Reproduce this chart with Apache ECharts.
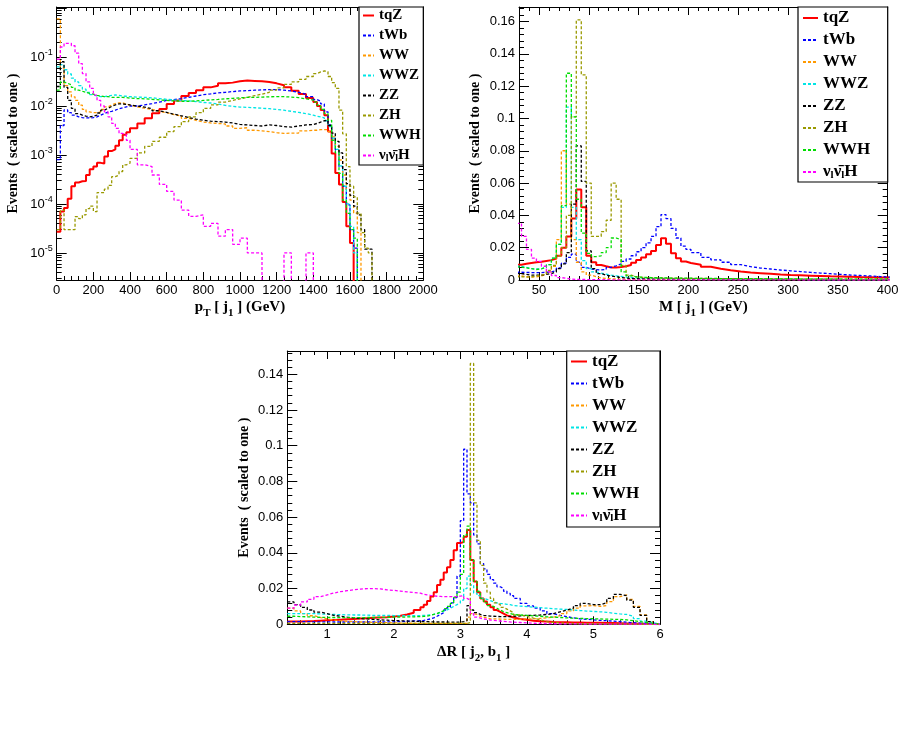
<!DOCTYPE html>
<html>
<head>
<meta charset="utf-8">
<title>jet distributions</title>
<script src="https://cdn.jsdelivr.net/npm/echarts@6.0.0/dist/echarts.min.js"></script>
<style>
  html, body { margin: 0; padding: 0; background: #fff; }
  #main { width: 905px; height: 730px; }
</style>
</head>
<body>
<div id="main"></div>
<script>
var seriesNames = ['tqZ', 'tWb', 'WW', 'WWZ', 'ZZ', 'ZH', 'WWH', 'vvH'];

// pT[j1], bin edges (GeV) and normalised contents
var ptEdges = [0,20,40,60,80,100,120,140,160,180,200,220,240,260,280,300,320,340,360,380,400,
  440,480,520,560,600,640,680,720,760,800,840,880,920,960,1000,1040,1080,1120,1160,1200,1240,1280,1320,1360,1400,
  1420,1440,1460,1480,1500,1520,1540,1560,1580,1600,1620,1640,1660,1680,1700,1720,1740];
var ptTqZ = [2.7e-5,7e-5,8.3e-5,1.27e-4,2.3e-4,2.75e-4,2.9e-4,2.95e-4,3.9e-4,5.1e-4,5.8e-4,6.9e-4,6.7e-4,9.3e-4,1.2e-3,1.3e-3,1.55e-3,2.0e-3,2.6e-3,2.9e-3,
  3.5e-3,4.4e-3,5.6e-3,7.1e-3,8.7e-3,1.1e-2,1.3e-2,1.6e-2,1.85e-2,2.1e-2,2.4e-2,2.6e-2,2.9e-2,3.0e-2,3.2e-2,3.3e-2,3.25e-2,3.2e-2,3.1e-2,2.9e-2,2.65e-2,2.4e-2,2.05e-2,1.75e-2,1.45e-2,
  1.2e-2,1.0e-2,8.3e-3,6.5e-3,3.0e-3,1.07e-3,4.3e-4,2.5e-4,1.1e-4,3.5e-5,1.6e-5,0,0,0,0,0,0];
var ptTWb = [8e-4,4e-3,8.3e-3,7.3e-3,6.5e-3,6e-3,5.8e-3,5.7e-3,5.7e-3,5.8e-3,6e-3,6.5e-3,7e-3,7.5e-3,7.8e-3,8.2e-3,8.8e-3,9.2e-3,9.6e-3,1.0e-2,
  1.0e-2,1.05e-2,1.12e-2,1.2e-2,1.3e-2,1.35e-2,1.42e-2,1.5e-2,1.6e-2,1.7e-2,1.77e-2,1.85e-2,1.9e-2,1.97e-2,2.03e-2,2.06e-2,2.1e-2,2.13e-2,2.16e-2,2.16e-2,2.1e-2,2.03e-2,1.9e-2,1.75e-2,1.55e-2,
  1.35e-2,1.25e-2,1.1e-2,7.6e-3,4.1e-3,2.2e-3,1.26e-3,5.8e-4,2.3e-4,9.6e-5,3e-5,1.25e-5,0,0,0,0,0];
var ptWW = [0.6,0.06,0.026,0.0194,0.0154,0.013,0.0104,0.0085,0.0076,0.0073,0.0073,0.0076,0.0085,0.0096,0.0105,0.0112,0.0116,0.0116,0.011,0.0104,
  9.6e-3,9.0e-3,8.5e-3,7.8e-3,7.3e-3,6.7e-3,6.2e-3,5.6e-3,5.1e-3,4.7e-3,4.5e-3,4.4e-3,4.3e-3,3.9e-3,3.5e-3,3.6e-3,3.2e-3,3.1e-3,3.0e-3,2.85e-3,2.75e-3,2.8e-3,2.8e-3,3.1e-3,3.2e-3,
  3.2e-3,3.3e-3,3.3e-3,3.3e-3,3.0e-3,2.35e-3,1.5e-3,7.9e-4,3.9e-4,1.95e-4,1.2e-4,6.5e-5,2.6e-5,0,0,0,0];
var ptWWZ = [0.063,0.07,0.055,0.045,0.037,0.031,0.026,0.022,0.019,0.017,0.016,0.0155,0.0155,0.016,0.0165,0.0168,0.0165,0.016,0.0158,0.0155,
  0.0152,0.015,0.0147,0.0142,0.0137,0.0133,0.013,0.0127,0.0123,0.0118,0.0115,0.011,0.0103,0.0098,0.0095,0.0094,0.0092,0.009,0.0088,0.0085,0.0082,0.0078,0.0074,0.007,0.0065,
  6.2e-3,6.0e-3,5.7e-3,5.0e-3,3.8e-3,2.2e-3,1.3e-3,6e-4,2.3e-4,1.0e-4,3.5e-5,1.0e-5,0,0,0,0,0];
var ptZZ = [0.025,0.08,0.024,0.013,0.0089,0.007,0.0065,0.0062,0.006,0.0062,0.0065,0.0072,0.0082,0.009,0.0098,0.0105,0.011,0.011,0.0108,0.0105,
  0.01,0.0095,0.0088,0.008,0.0074,0.0068,0.0063,0.0058,0.0054,0.0051,0.0049,0.0048,0.0047,0.0045,0.0042,0.0041,0.004,0.0039,0.0041,0.004,0.0038,0.0037,0.0039,0.0041,0.0042,
  4.4e-3,4.7e-3,5.0e-3,5.1e-3,4.0e-3,2.8e-3,1.9e-3,1.1e-3,5e-4,2.6e-4,1.5e-4,9e-5,6e-5,3e-5,1.2e-5,1.2e-5,0];
var ptZH = [3e-5,7.5e-5,3e-5,3e-5,3e-5,5.5e-5,5e-5,6e-5,8e-5,9e-5,7e-5,1.7e-4,1.7e-4,2e-4,2.4e-4,3.6e-4,3.9e-4,4.6e-4,6.3e-4,6.8e-4,
  8.5e-4,1.1e-3,1.5e-3,1.9e-3,2.3e-3,3e-3,3.8e-3,4.8e-3,6e-3,7.3e-3,8.9e-3,1.05e-2,1.2e-2,1.3e-2,1.4e-2,1.5e-2,1.62e-2,1.75e-2,1.9e-2,2.1e-2,2.35e-2,2.75e-2,3.1e-2,3.5e-2,4.0e-2,
  4.6e-2,4.95e-2,5.2e-2,5.0e-2,4.0e-2,3.0e-2,2.3e-2,8.2e-3,2.7e-3,5.8e-4,2.3e-4,1.4e-4,6.5e-5,2.6e-5,1.25e-5,1e-5,0];
var ptWWH = [0.021,0.031,0.029,0.027,0.024,0.021,0.02,0.019,0.018,0.0175,0.0165,0.016,0.0155,0.0155,0.015,0.015,0.015,0.015,0.0148,0.0145,
  0.0142,0.014,0.0137,0.0133,0.013,0.0127,0.0125,0.0125,0.0127,0.013,0.0133,0.0136,0.014,0.0143,0.0147,0.015,0.015,0.0152,0.0154,0.0155,0.0155,0.0152,0.0148,0.014,0.0132,
  1.2e-2,1.04e-2,8.5e-3,7e-3,5.1e-3,2e-3,1.1e-3,4.2e-4,1.2e-4,6.4e-5,3e-5,2e-5,0,0,0,0,0];
var ptVVH = [0.09,0.16,0.19,0.19,0.17,0.12,0.073,0.046,0.031,0.023,0.0166,0.013,0.01,0.0076,0.006,0.0044,0.0035,0.00275,0.0026,0.002,
  1.3e-3,6.3e-4,5.8e-4,3.9e-4,2.5e-4,1.8e-4,1.2e-4,7.5e-5,5.6e-5,6e-5,3.5e-5,4e-5,2.2e-5,3e-5,1.5e-5,2e-5,1e-5,1e-5,0,0,0,1e-5,0,0,1e-5,
  0,0,0,0,0,0,0,0,0,0,0,0,0,0,0,0,0];

// M[j1], bin edges (GeV)
var mEdges = [27.5,32.5,37.5,42.5,47.5,52.5,57.5,62.5,67.5,72.5,77.5,82.5,87.5,92.5,97.5,102.5,107.5,112.5,117.5,122.5,
  127.5,132.5,137.5,142.5,147.5,152.5,157.5,162.5,167.5,172.5,177.5,182.5,187.5,192.5,197.5,202.5,
  212.5,222.5,232.5,242.5,252.5,262.5,272.5,282.5,292.5,302.5,312.5,322.5,332.5,342.5,352.5,362.5,372.5,382.5,392.5,402.5];
var mTqZ = [0.0095,0.0100,0.0105,0.011,0.0113,0.0118,0.0123,0.0133,0.015,0.02,0.027,0.038,0.056,0.045,0.015,0.011,0.0093,0.0085,0.0078,0.0078,
  0.008,0.0085,0.0093,0.0107,0.0124,0.014,0.016,0.018,0.0217,0.0258,0.0225,0.0165,0.0134,0.0114,0.0105,
  0.0095,0.0082,0.007,0.006,0.0052,0.0046,0.0042,0.0038,0.0034,0.0031,0.0029,0.0027,0.0025,0.0023,0.0022,0.002,0.0018,0.0017,0.0016,0.0015];
var mTWb = [0.0048,0.0047,0.0046,0.0046,0.0046,0.0048,0.005,0.0058,0.0075,0.0105,0.014,0.016,0.011,0.0078,0.0068,0.0064,0.0062,0.0065,0.0078,0.0088,
  0.01,0.0115,0.013,0.015,0.0175,0.02,0.023,0.027,0.033,0.0405,0.038,0.032,0.026,0.021,0.019,
  0.017,0.014,0.0125,0.011,0.0095,0.0083,0.0074,0.0068,0.0062,0.0057,0.0052,0.0047,0.0043,0.0039,0.0035,0.0031,0.0028,0.0025,0.0021,0.0018];
var mWW = [0.0025,0.002,0.0018,0.002,0.0025,0.0035,0.005,0.0085,0.025,0.08,0.047,0.025,0.011,0.005,0.003,0.002,0.0012,0.001,0.0008,0.0006,
  0.0005,0.0004,0.0003,0.0003,0.0003,0.0003,0.0003,0.0003,0.0003,0.0003,0.0003,0.0003,0.0003,0.0003,0.0003,
  0.0003,0.0003,0.0003,0.0003,0.0003,0.0002,0.0002,0.0002,0.0002,0.0002,0.0002,0.0002,0.0002,0.0002,0.0002,0.0001,0.0001,0.0001,0.0001,0.0001];
var mWWZ = [0.0085,0.0078,0.007,0.0068,0.007,0.0078,0.0095,0.0135,0.022,0.045,0.107,0.045,0.025,0.012,0.007,0.005,0.0042,0.0036,0.003,0.0026,
  0.0022,0.0018,0.0015,0.0013,0.0012,0.0011,0.0011,0.001,0.001,0.001,0.0009,0.0009,0.0009,0.0008,0.0008,
  0.0008,0.0007,0.0007,0.0006,0.0006,0.0005,0.0005,0.0005,0.0004,0.0004,0.0004,0.0003,0.0003,0.0003,0.0003,0.0002,0.0002,0.0002,0.0002,0.0002];
var mZZ = [0.004,0.0035,0.003,0.003,0.003,0.0035,0.004,0.005,0.007,0.01,0.017,0.047,0.083,0.061,0.018,0.007,0.004,0.003,0.0025,0.002,
  0.0015,0.0012,0.001,0.0008,0.0007,0.0007,0.0006,0.0006,0.0006,0.0005,0.0005,0.0005,0.0005,0.0005,0.0005,
  0.0005,0.0005,0.0005,0.0005,0.0004,0.0004,0.0004,0.0004,0.0004,0.0004,0.0003,0.0003,0.0003,0.0003,0.0003,0.0002,0.0002,0.0002,0.0002,0.0002];
var mZH = [0.002,0.0018,0.002,0.0025,0.003,0.004,0.006,0.009,0.015,0.02,0.04,0.101,0.161,0.127,0.06,0.027,0.027,0.03,0.037,0.06,
  0.05,0.009,0.003,0.002,0.0016,0.0015,0.0014,0.0013,0.0013,0.0012,0.0012,0.0011,0.0011,0.001,0.001,
  0.001,0.0009,0.0009,0.0008,0.0008,0.0008,0.0007,0.0007,0.0007,0.0006,0.0006,0.0006,0.0006,0.0005,0.0005,0.0005,0.0005,0.0005,0.0005,0.0005];
var mWWH = [0.008,0.0075,0.007,0.0065,0.0068,0.008,0.0095,0.0135,0.022,0.046,0.128,0.101,0.05,0.029,0.0165,0.0145,0.015,0.017,0.02,0.026,
  0.025,0.005,0.0025,0.002,0.0018,0.0016,0.0015,0.0014,0.0013,0.0013,0.0012,0.0012,0.0011,0.0011,0.0011,
  0.001,0.001,0.0009,0.0009,0.0008,0.0008,0.0008,0.0007,0.0007,0.0007,0.0006,0.0006,0.0006,0.0006,0.0005,0.0005,0.0005,0.0005,0.0005,0.0005];
var mVVH = [0.035,0.027,0.019,0.0135,0.0115,0.0085,0.005,0.0028,0.0015,0.001,0.0006,0.0004,0.0003,0.0003,0.0002,0.0002,0.0002,0.0002,0.0001,0.0001,
  0.0001,0.0001,0.0001,0.0001,0.0001,0.0001,0.0001,0.0001,0.0001,0.0001,0.0001,0.0001,0.0001,0.0001,0.0001,
  0.0001,0.0001,0.0001,0.0001,0.0001,0.0001,0.0001,0.0001,0.0001,0.0001,0,0,0,0,0,0,0,0,0,0];

// DeltaR[j2,b1], bin edges
var drEdges = [0.4,0.5,0.6,0.7,0.8,0.9,1.0,1.1,1.2,1.3,1.4,1.5,1.6,1.7,1.8,1.9,2.0,2.1,2.2,2.3,2.4,
  2.45,2.5,2.55,2.6,2.65,2.7,2.75,2.8,2.85,2.9,2.95,3.0,3.05,3.1,3.15,3.2,3.25,3.3,3.35,3.4,3.45,3.5,3.55,3.6,3.65,3.7,3.75,3.8,
  3.9,4.0,4.1,4.2,4.3,4.4,4.5,4.6,4.7,4.8,4.9,5.0,5.1,5.2,5.3,5.4,5.5,5.6,5.7,5.8,5.9,6.0];
var drTqZ = [0.0015,0.0016,0.0017,0.0018,0.002,0.0022,0.0024,0.0026,0.0028,0.003,0.0032,0.0034,0.0036,0.0038,0.004,0.0043,0.0048,0.0055,0.0065,0.008,
  0.0095,0.011,0.013,0.0155,0.018,0.022,0.025,0.029,0.032,0.036,0.0415,0.0455,0.046,0.049,0.0528,0.036,0.024,0.018,0.0145,0.0127,0.011,0.0095,0.008,0.007,0.006,0.005,0.0044,0.0038,
  0.003,0.0025,0.002,0.0017,0.0015,0.0013,0.0012,0.0011,0.001,0.001,0.0009,0.0009,0.0008,0.0007,0.0007,0.0006,0.0005,0.0004,0.0003,0.0002,0.0001,0];
var drTWb = [0.0015,0.0015,0.0015,0.0014,0.0014,0.0014,0.0013,0.0013,0.0013,0.0013,0.0013,0.0013,0.0013,0.0013,0.0013,0.0014,0.0015,0.0017,0.0019,0.002,
  0.0022,0.0026,0.003,0.0036,0.0045,0.0055,0.0065,0.008,0.0095,0.012,0.015,0.027,0.058,0.098,0.073,0.068,0.05,0.045,0.034,0.031,0.028,0.025,0.023,0.021,0.02,0.0185,0.0173,0.016,
  0.0145,0.0117,0.0103,0.009,0.0075,0.006,0.005,0.0043,0.0036,0.003,0.0028,0.0025,0.0022,0.002,0.0018,0.0015,0.0012,0.0009,0.0007,0.0005,0.0003,0.0001];
var drWW = [0.009,0.0075,0.006,0.0048,0.0038,0.003,0.0024,0.002,0.0017,0.0015,0.0013,0.0012,0.0011,0.001,0.0009,0.0008,0.0007,0.0006,0.0006,0.0005,
  0.0005,0.0005,0.0005,0.0005,0.0005,0.0005,0.0005,0.0005,0.0005,0.0005,0.0005,0.0005,0.0005,0.0005,0.004,0.006,0.0055,0.0045,0.004,0.0035,0.003,0.003,0.003,0.0029,0.0029,0.0028,0.0028,0.0028,
  0.0028,0.003,0.003,0.0033,0.0036,0.004,0.0048,0.006,0.0075,0.009,0.0103,0.0105,0.01,0.0105,0.0127,0.0155,0.0165,0.014,0.01,0.0052,0.0015,0];
var drWWZ = [0.006,0.006,0.006,0.006,0.0058,0.0056,0.0055,0.0054,0.0053,0.0052,0.0052,0.0051,0.005,0.005,0.005,0.0049,0.0048,0.0048,0.0048,0.0049,
  0.005,0.0051,0.0053,0.0056,0.006,0.0066,0.0073,0.008,0.009,0.01,0.011,0.012,0.0135,0.02,0.027,0.022,0.0175,0.016,0.0145,0.014,0.0132,0.0125,0.012,0.0117,0.0115,0.0112,0.011,0.0105,
  0.0102,0.0099,0.0096,0.0093,0.009,0.0087,0.0085,0.0083,0.008,0.0077,0.0074,0.0072,0.007,0.0067,0.0062,0.0058,0.0055,0.0045,0.0032,0.0018,0.0008,0.0002];
var drZZ = [0.0125,0.011,0.0095,0.008,0.0068,0.006,0.005,0.0045,0.004,0.0036,0.0032,0.003,0.0027,0.0025,0.0023,0.0021,0.002,0.0018,0.0017,0.0016,
  0.0015,0.0015,0.0014,0.0014,0.0013,0.0013,0.0013,0.0012,0.0012,0.0012,0.0012,0.0013,0.0015,0.002,0.0105,0.008,0.0065,0.0055,0.005,0.0048,0.0046,0.0045,0.0044,0.0043,0.0043,0.0043,0.0044,0.0045,
  0.0047,0.005,0.005,0.0052,0.0055,0.006,0.007,0.008,0.009,0.0105,0.0117,0.011,0.011,0.012,0.0145,0.0168,0.016,0.0135,0.0095,0.005,0.0015,0];
var drZH = [0.0005,0.0005,0.0005,0.0005,0.0005,0.0005,0.0005,0.0005,0.0005,0.0005,0.0005,0.0005,0.0005,0.0005,0.0005,0.0005,0.0005,0.0005,0.0005,0.0005,
  0.0005,0.0005,0.0005,0.0005,0.0005,0.0005,0.0005,0.0005,0.0005,0.0005,0.0005,0.0005,0.0005,0.0005,0.001,0.146,0.068,0.047,0.033,0.023,0.018,0.0145,0.012,0.011,0.0095,0.0085,0.0075,0.0065,
  0.0052,0.0045,0.0034,0.0025,0.0015,0.001,0.0007,0.0005,0.0004,0.0003,0.0003,0.0002,0.0002,0.0002,0.0001,0.0001,0.0001,0.0001,0.0001,0,0,0];
var drWWH = [0.0045,0.0043,0.0042,0.004,0.0039,0.0038,0.0038,0.0037,0.0037,0.0037,0.0037,0.0038,0.0038,0.0039,0.0039,0.004,0.004,0.0041,0.0042,0.0043,
  0.0044,0.0046,0.005,0.0055,0.006,0.0068,0.0076,0.0088,0.01,0.0117,0.015,0.018,0.028,0.05,0.055,0.036,0.024,0.0185,0.0145,0.012,0.0105,0.01,0.009,0.008,0.007,0.0065,0.006,0.0055,
  0.0052,0.005,0.0047,0.0045,0.0042,0.004,0.0038,0.0036,0.0034,0.0033,0.0032,0.0031,0.003,0.0029,0.0028,0.0027,0.0025,0.002,0.0015,0.001,0.0005,0.0001];
var drVVH = [0.009,0.0108,0.0125,0.014,0.0155,0.0165,0.0175,0.0183,0.0188,0.0193,0.0197,0.02,0.02,0.0198,0.0193,0.019,0.0186,0.0182,0.0178,0.0174,
  0.0168,0.0165,0.0162,0.016,0.0157,0.0156,0.0155,0.0155,0.0155,0.0155,0.0155,0.0158,0.016,0.0145,0.0135,0.006,0.004,0.0035,0.003,0.0027,0.0024,0.0022,0.002,0.0018,0.0016,0.0015,0.0013,0.0012,
  0.001,0.0008,0.0006,0.0005,0.0004,0.0003,0.0003,0.0002,0.0002,0.0002,0.0001,0.0001,0.0001,0.0001,0.0001,0.0001,0.0001,0.0001,0.0001,0.0001,0,0];

// line looks, same order as seriesNames
var lineLooks = [
  {color: '#ff0000', width: 2, type: 'solid'},
  {color: '#0000ff', width: 1.3, type: [3, 2]},
  {color: '#ff9900', width: 1.3, type: [3, 2]},
  {color: '#00e5e5', width: 1.3, type: [3, 2]},
  {color: '#000000', width: 1.3, type: [3, 2]},
  {color: '#999900', width: 1.3, type: [3, 2]},
  {color: '#00dd00', width: 1.3, type: [3, 2]},
  {color: '#ff00ff', width: 1.3, type: [3, 2]}
];

var SERIF = '"Liberation Serif", "Times New Roman", serif';
var SANS = '"Liberation Sans", Arial, Helvetica, sans-serif';

// histogram outline: value held from each low edge to the next edge
function histData(edges, vals, floorVal) {
  var pts = [];
  for (var i = 0; i < vals.length; i++) {
    var v = vals[i];
    if (floorVal && v <= 0) v = floorVal;
    pts.push([edges[i], v]);
  }
  var last = pts[pts.length - 1][1];
  pts.push([edges[vals.length], last]);
  return pts;
}

function legendLabel(name) {
  if (name === 'vvH') return '\u03bd{sub|l}\u03bd\u0304{sub|l}H';
  return name;
}

function powLabel(v) {
  var e = Math.log(v) / Math.LN10;
  var r = Math.round(e);
  if (Math.abs(e - r) > 1e-6 || r === 0) return '';
  return '10{sup|' + r + '}';
}

function plainNum(v) {
  return String(Math.round(v * 1000) / 1000);
}

function titleStyle(size) {
  return {
    fontFamily: SERIF, fontWeight: 'bold', fontSize: size, color: '#000', lineHeight: size + 8,
    rich: {sub: {fontFamily: SERIF, fontWeight: 'bold', fontSize: Math.round(size * 0.7), lineHeight: 10, verticalAlign: 'bottom', color: '#000'}}
  };
}

var numLabel = {show: true, color: '#000', fontFamily: SANS, fontSize: 13, margin: 4, formatter: plainNum};

function axisBase(extra) {
  return Object.assign({
    axisLine: {show: true, onZero: false, lineStyle: {color: '#000', width: 1}},
    axisTick: {show: true, inside: true, length: 8, lineStyle: {color: '#000'}},
    minorTick: {show: true, splitNumber: 5, length: 4, lineStyle: {color: '#000'}},
    splitLine: {show: false},
    minorSplitLine: {show: false},
    axisLabel: {show: false},
    nameMoveOverlap: false
  }, extra);
}

var yTick = {show: true, inside: true, length: 10, lineStyle: {color: '#000'}};
var yMinor = {show: true, splitNumber: 5, length: 5, lineStyle: {color: '#000'}};
var logMinor = {show: true, splitNumber: 9, length: 5, lineStyle: {color: '#000'}};

var xAxes = [
  // panel 1
  axisBase({type: 'value', gridIndex: 0, position: 'bottom', min: 0, max: 2000, interval: 200,
    axisLabel: numLabel, name: 'p{sub|T} [ j{sub|1} ] (GeV)', nameLocation: 'middle', nameGap: 16, nameTextStyle: titleStyle(15)}),
  axisBase({type: 'value', gridIndex: 0, position: 'top', min: 0, max: 2000, interval: 200}),
  // panel 2
  axisBase({type: 'value', gridIndex: 1, position: 'bottom', min: 30, max: 400, splitNumber: 7, minInterval: 50, maxInterval: 50,
    axisLabel: Object.assign({showMinLabel: false}, numLabel), name: 'M [ j{sub|1} ] (GeV)', nameLocation: 'middle', nameGap: 16, nameTextStyle: titleStyle(15)}),
  axisBase({type: 'value', gridIndex: 1, position: 'top', min: 30, max: 400, splitNumber: 7, minInterval: 50, maxInterval: 50}),
  // panel 3
  axisBase({type: 'value', gridIndex: 2, position: 'bottom', min: 0.4, max: 6, splitNumber: 6, minInterval: 1, maxInterval: 1,
    axisLabel: Object.assign({showMinLabel: false}, numLabel), name: '\u0394R [ j{sub|2}, b{sub|1} ]', nameLocation: 'middle', nameGap: 16, nameTextStyle: titleStyle(15)}),
  axisBase({type: 'value', gridIndex: 2, position: 'top', min: 0.4, max: 6, splitNumber: 6, minInterval: 1, maxInterval: 1})
];

var yName = 'Events  ( scaled to one )';
var yAxes = [
  axisBase({type: 'log', logBase: 10, gridIndex: 0, position: 'left', min: 2.8e-6, max: 1.05,
    axisTick: yTick, minorTick: logMinor,
    axisLabel: Object.assign({}, numLabel, {formatter: powLabel, showMinLabel: false, showMaxLabel: false, lineHeight: 18,
      rich: {sup: {fontFamily: SANS, fontSize: 9, lineHeight: 9, verticalAlign: 'top', color: '#000'}}}),
    name: yName, nameLocation: 'middle', nameGap: 32, nameTextStyle: titleStyle(14)}),
  axisBase({type: 'log', logBase: 10, gridIndex: 0, position: 'right', min: 2.8e-6, max: 1.05, axisTick: yTick, minorTick: logMinor}),
  axisBase({type: 'value', gridIndex: 1, position: 'left', min: 0, max: 0.169, interval: 0.02,
    axisTick: yTick, minorTick: yMinor, axisLabel: Object.assign({showMaxLabel: false}, numLabel),
    name: yName, nameLocation: 'middle', nameGap: 33, nameTextStyle: titleStyle(14)}),
  axisBase({type: 'value', gridIndex: 1, position: 'right', min: 0, max: 0.169, interval: 0.02, axisTick: yTick, minorTick: yMinor}),
  axisBase({type: 'value', gridIndex: 2, position: 'left', min: 0, max: 0.153, interval: 0.02,
    axisTick: yTick, minorTick: yMinor, axisLabel: Object.assign({showMaxLabel: false}, numLabel),
    name: yName, nameLocation: 'middle', nameGap: 32, nameTextStyle: titleStyle(14)}),
  axisBase({type: 'value', gridIndex: 2, position: 'right', min: 0, max: 0.153, interval: 0.02, axisTick: yTick, minorTick: yMinor})
];

var panels = [
  {edges: ptEdges, sets: [ptTqZ, ptTWb, ptWW, ptWWZ, ptZZ, ptZH, ptWWH, ptVVH], axis: 0, floor: 1e-9},
  {edges: mEdges, sets: [mTqZ, mTWb, mWW, mWWZ, mZZ, mZH, mWWH, mVVH], axis: 2, floor: 0},
  {edges: drEdges, sets: [drTqZ, drTWb, drWW, drWWZ, drZZ, drZH, drWWH, drVVH], axis: 4, floor: 0}
];

var series = [];
panels.forEach(function (p) {
  p.sets.forEach(function (vals, k) {
    var look = lineLooks[k];
    series.push({
      type: 'line', name: seriesNames[k],
      xAxisIndex: p.axis, yAxisIndex: p.axis,
      data: histData(p.edges, vals, p.floor),
      step: 'end', symbol: 'none', showSymbol: false, clip: true, silent: true,
      lineStyle: {color: look.color, width: look.width, type: look.type},
      itemStyle: {color: look.color},
      z: 2
    });
  });
});

function makeLegend(left, top, fontSize, iconW, lineH) {
  return {
    left: left, top: top, orient: 'vertical', padding: 0,
    itemWidth: iconW, itemHeight: 10, itemGap: 5,
    selectedMode: false, data: seriesNames, z: 10,
    formatter: legendLabel,
    itemStyle: {opacity: 0},
    textStyle: {
      fontFamily: SERIF, fontWeight: 'bold', fontSize: fontSize, color: '#000', lineHeight: lineH,
      rich: {sub: {fontFamily: SERIF, fontWeight: 'bold', fontSize: Math.round(fontSize * 0.65), lineHeight: 10, verticalAlign: 'bottom', color: '#000'}}
    }
  };
}

function legendBox(x, y, w, h) {
  return {type: 'rect', z: 8, silent: true, shape: {x: x, y: y, width: w, height: h},
    style: {fill: '#fff', stroke: '#000', lineWidth: 1.2}};
}

var chart = echarts.init(document.getElementById('main'), null, {renderer: 'canvas'});
chart.setOption({
  animation: false,
  backgroundColor: '#fff',
  grid: [
    {left: 56.7, top: 7, width: 366.6, height: 273, containLabel: false, outerBoundsMode: 'none'},
    {left: 519, top: 7, width: 368.7, height: 273, containLabel: false, outerBoundsMode: 'none'},
    {left: 287.3, top: 351, width: 372.7, height: 273.3, containLabel: false, outerBoundsMode: 'none'}
  ],
  xAxis: xAxes,
  yAxis: yAxes,
  legend: [
    makeLegend(362, 8, 15, 11, 15),
    makeLegend(802, 9.5, 17, 15, 17),
    makeLegend(570, 353, 17, 16, 17)
  ],
  graphic: [
    legendBox(359, 7, 64.3, 158),
    legendBox(798, 7, 89.7, 175),
    legendBox(566.7, 351, 93.3, 176)
  ],
  series: series
});
</script>
</body>
</html>
